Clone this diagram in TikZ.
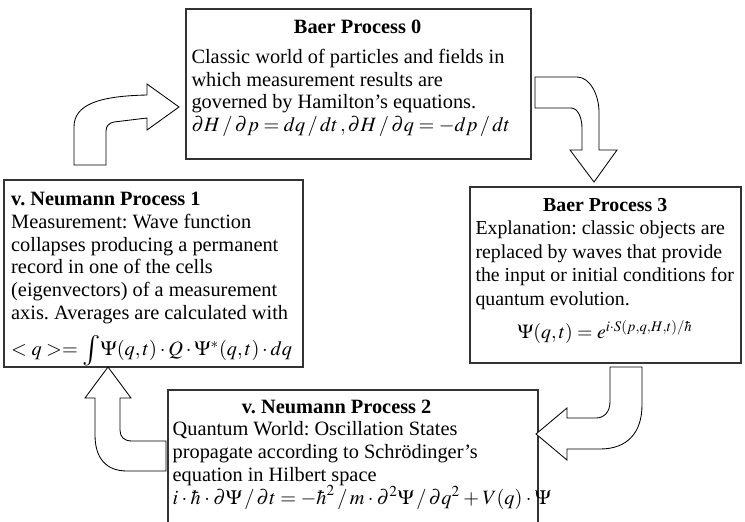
\documentclass[tikz,border=0pt]{standalone}
\usepackage{mathptmx}
\usepackage[no-math]{fontspec}
\setmainfont{Liberation Serif}
\usepackage{graphicx}
\usepackage{tikz}
\usetikzlibrary{calc}
\usetikzlibrary{positioning, fit}
\frenchspacing

\begin{document}
\begin{tikzpicture}[
    x=0.59pt, y=-0.59pt,
    procbox/.style={draw=black!80, line width=0.9pt, inner sep=0pt},
    proctext/.style={inner sep=0pt, align=left, font=\fontsize{12}{13.4}\selectfont},
    bigarrow/.style={draw=black, line width=0.5pt, fill=white, line join=miter},
]
    \clip (0,0) rectangle (745,522);

    % --- Process boxes ---
    \node[procbox, fit={(186,9) (531,159)}]   (P0) {};
    \node[procbox, fit={(4,180) (303,367)}]   (P1) {};
    \node[procbox, fit={(168,390) (538,560)}] (P2) {};
    \node[procbox, fit={(470,187) (741,363)}] (P3) {};

    % --- Baer Process 0 (top) ---
    \node[proctext, below right=7pt and 3.5pt of P0.north west] (T0) {%
        \makebox[196pt]{\bfseries Baer Process 0}\\[4pt]
        Classic world of particles and fields in\\
        which measurement results are\\
        governed by Hamilton's equations.\\
        $\partial H\,/\,\partial p = dq\,/\,dt\,,\partial H\,/\,\partial q = -dp\,/\,dt$};

    % --- v. Neumann Process 1 (left) ---
    \node[proctext, below right=7.5pt and 4.5pt of P1.north west] (T1) {%
        \textbf{v. Neumann Process 1}\\
        Measurement: Wave function\\
        collapses producing a permanent\\
        record in one of the cells\\
        (eigenvectors) of a measurement\\
        axis. Averages are calculated with\\[6pt]
        $<q>=\vcenter{\hbox{\scalebox{1.5}{$\int$}}}\Psi(q,t)\cdot Q\cdot\Psi^{*}(q,t)\cdot dq$};

    % --- v. Neumann Process 2 (bottom) ---
    \node[proctext, below right=6pt and 3pt of P2.north west] (T2) {%
        \makebox[193.5pt]{\bfseries v. Neumann Process 2}\\
        Quantum World: Oscillation States\\
        propagate according to Schrödinger's\\
        equation in Hilbert space\\
        \medmuskip=3mu
        $i\cdot\hbar\cdot\partial\Psi\mkern2mu/\mkern2mu\partial t = -\hbar^2\mkern2mu/\mkern2mu m\cdot\partial^2\Psi\mkern2mu/\mkern2mu\partial q^2 + V(q)\cdot\Psi$};

    % --- Baer Process 3 (right) ---
    \node[proctext, font=\fontsize{11.7}{13.8}\selectfont, below right=7pt and 3.5pt of P3.north west] (T3) {%
        \makebox[153pt]{\bfseries Baer Process 3}\\
        Explanation: classic objects are\\
        replaced by waves that provide\\
        the input or initial conditions for\\
        quantum evolution.\\[6pt]
        \makebox[153pt]{$\Psi(q,t) = e^{i\cdot S(p,q,H,t)/\hbar}$}};

    % --- Arrow 1 -> 0 ---
    \draw[bigarrow] (74,165) -- (74,127) .. controls (74,104) and (100,96) .. (147,95)
        -- (147,84) -- (179,107) -- (147,130) -- (147,118) -- (114,122)
        .. controls (109,123) and (106,126) .. (106,131) -- (106,165) -- cycle;

    % --- Arrow 0 -> 3 ---
    \draw[bigarrow] (535,77) -- (577,77) .. controls (590,77) and (599,95) .. (599,112)
        -- (599,150) -- (617,150) -- (594,182) -- (570,150) -- (582,150) -- (582,128)
        .. controls (582,118) and (578,108) .. (571,108) -- (535,108) -- cycle;

    % --- Arrow 3 -> 2 ---
    \draw[bigarrow] (642,367) -- (642,405) .. controls (642,432) and (628,449) .. (600,449)
        -- (567,449) -- (567,460) -- (536,434) -- (567,408) -- (567,418) -- (596,418)
        .. controls (604,418) and (610,412) .. (610,402) -- (610,367) -- cycle;

    % --- Arrow 2 -> 1 ---
    \draw[bigarrow] (166,471) -- (127,471) .. controls (106,471) and (95,458) .. (95,435)
        -- (95,398) -- (85,398) -- (108,367) -- (131,398) -- (120,398) -- (120,430)
        .. controls (120,437) and (124,441) .. (132,441) -- (166,441) -- cycle;

\end{tikzpicture}
\end{document}
